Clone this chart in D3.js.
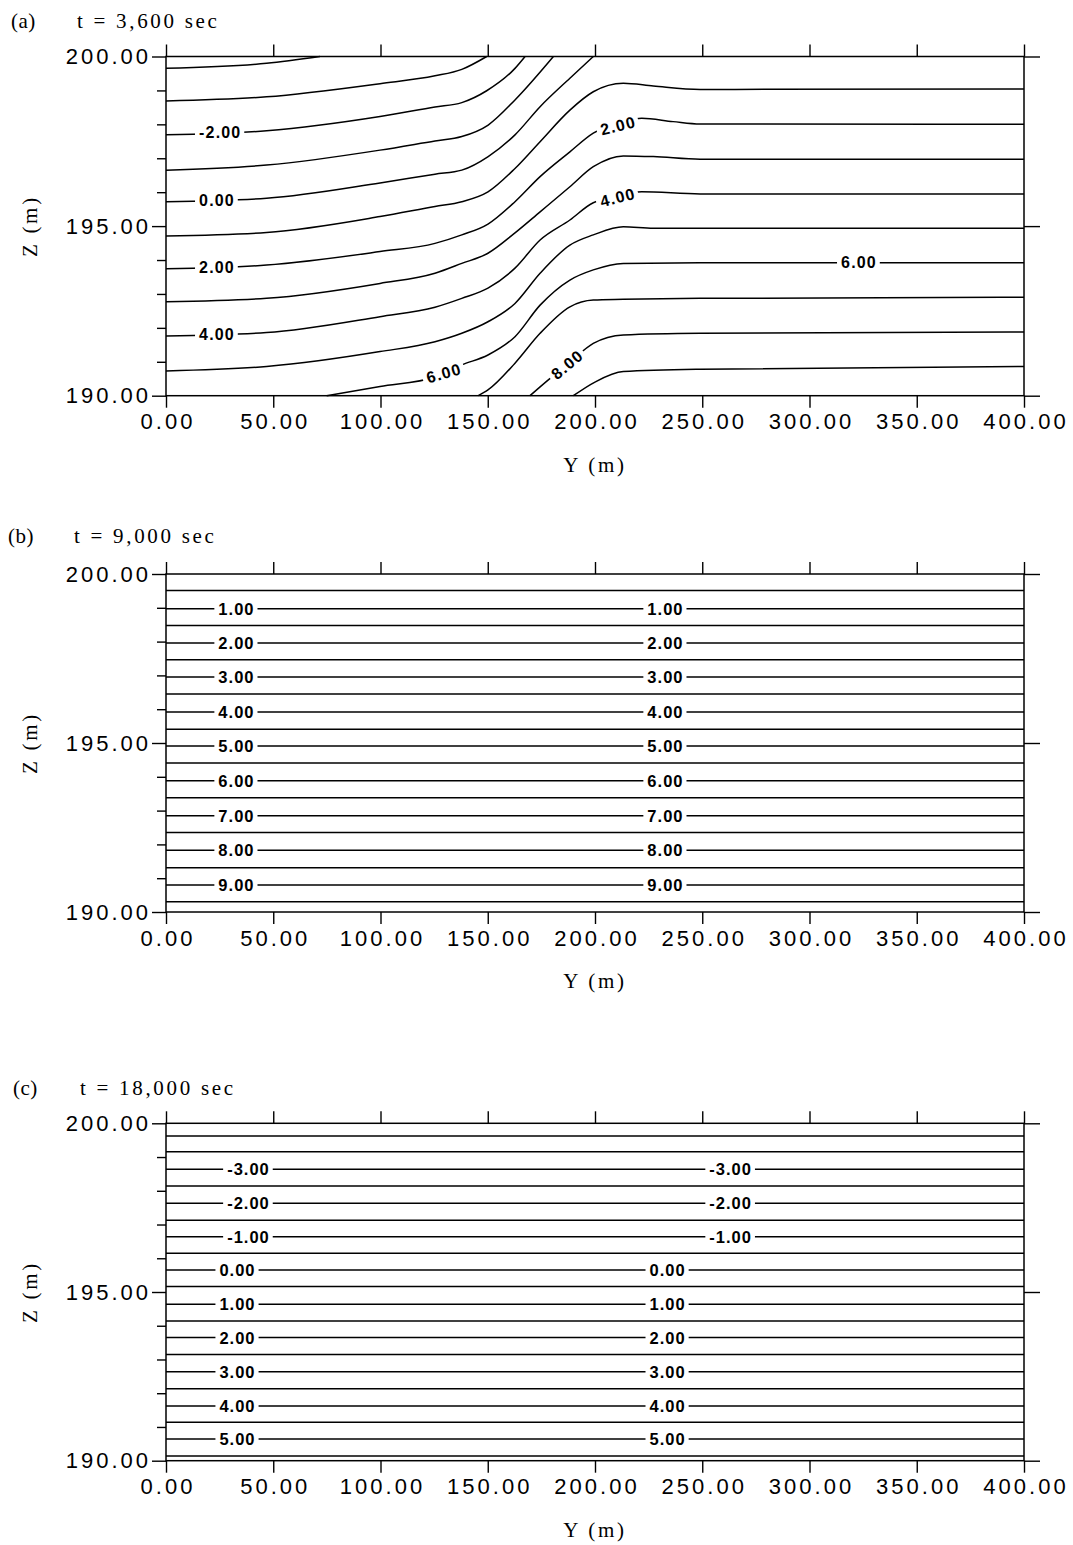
<!DOCTYPE html>
<html><head><meta charset="utf-8">
<script src="https://cdn.jsdelivr.net/npm/d3@7"></script>
<style>body{margin:0;background:#fff}svg{display:block}</style>
</head><body><svg id="chart" width="1073" height="1545"></svg>
<script>
// ---------------- DATA ----------------
const panelLetters = ["(a)", "(b)", "(c)"];
const panelTimes = ["t = 3,600 sec", "t = 9,000 sec", "t = 18,000 sec"];
const xAxisTitle = "Y (m)";
const yAxisTitle = "Z (m)";
const yTickValues = [0, 50, 100, 150, 200, 250, 300, 350, 400];
const yTickLabels = ["0.00", "50.00", "100.00", "150.00", "200.00", "250.00", "300.00", "350.00", "400.00"];
const zTickValues = [190, 195, 200];
const zTickLabels = ["190.00", "195.00", "200.00"];
const zMinorTicks = [191, 192, 193, 194, 196, 197, 198, 199];

// Panel (a): contour levels and their traced [Y, Z] vertices
const levelsA = [-4, -3, -2, -1, 0, 1, 2, 3, 4, 5, 6, 7, 8, 9];
const contoursA = [
  [[0,199.65],[46.9,199.80],[71.8,200]],
  [[0,198.69],[46.9,198.81],[99.8,199.20],[125.4,199.43],[137.9,199.62],[149.5,200]],
  [[0,197.69],[46.9,197.81],[99.8,198.23],[125.4,198.51],[137.9,198.64],[149.5,198.99],[162.7,199.65],[167.4,200]],
  [[0,196.65],[46.9,196.80],[99.8,197.24],[125.4,197.51],[137.9,197.64],[150.2,197.98],[162.7,198.72],[180.6,200]],
  [[0,195.72],[46.9,195.82],[99.8,196.27],[125.4,196.53],[137.9,196.65],[150.2,197.05],[162.7,197.69],[174.4,198.52],[188.3,199.36],[199.2,200]],
  [[0,194.71],[46.9,194.81],[99.8,195.28],[125.4,195.58],[137.9,195.72],[150.1,196.01],[162.7,196.70],[174.4,197.49],[188.3,198.42],[199.2,198.96],[213.2,199.21],[227.2,199.13],[249,199.03],[400,199.04]],
  [[0,193.74],[46.9,193.85],[99.8,194.25],[125.4,194.49],[137.9,194.74],[150.1,195.06],[162.7,195.72],[174.4,196.46],[188.3,197.19],[199.2,197.74],[221.8,198.18],[236.4,198.08],[249,198.01],[400,198.0]],
  [[0,192.77],[46.9,192.87],[99.8,193.31],[125.4,193.61],[137.9,193.90],[150.1,194.20],[162.7,194.80],[174.4,195.42],[188.3,196.16],[199.2,196.75],[213.2,197.07],[227.2,197.05],[249,196.97],[400,196.97]],
  [[0,191.76],[46.9,191.86],[99.8,192.33],[125.4,192.61],[137.9,192.87],[150.1,193.17],[162.7,193.76],[174.4,194.59],[188.3,195.18],[199.2,195.69],[221.8,196.01],[249,195.95],[400,195.95]],
  [[0,190.73],[46.9,190.86],[99.8,191.30],[125.4,191.59],[137.9,191.84],[150.1,192.18],[162.7,192.72],[174.4,193.61],[188.3,194.44],[199.2,194.74],[213.2,194.98],[227.2,194.94],[249,194.94],[400,194.94]],
  [[74.9,190],[99.8,190.27],[125.4,190.55],[137.9,190.91],[150.1,191.20],[162.7,191.74],[174.4,192.67],[188.3,193.41],[199.2,193.71],[213.2,193.90],[249,193.92],[400,193.92]],
  [[145.6,190],[150.1,190.17],[162.7,190.96],[174.4,191.84],[188.3,192.62],[199.2,192.82],[213.2,192.84],[249,192.87],[400,192.90]],
  [[169.7,190],[174.4,190.26],[188.3,190.99],[199.2,191.54],[213.2,191.79],[249,191.84],[400,191.88]],
  [[189.9,190],[200.2,190.41],[213.2,190.71],[249,190.78],[400,190.86]]
];
const labelsA = [
  {level:-2, at:25, angle:0}, {level:0, at:23.5, angle:0}, {level:2, at:23.5, angle:0}, {level:4, at:23.5, angle:0},
  {level:6, at:129.3, angle:-16}, {level:8, at:186.8, angle:-40},
  {level:2, at:210.5, angle:-14}, {level:4, at:210.3, angle:-14}, {level:6, at:322.8, angle:0}
];

// Panel (b): horizontal contours
const levelsB = [0.5,1,1.5,2,2.5,3,3.5,4,4.5,5,5.5,6,6.5,7,7.5,8,8.5,9,9.5];
const zB = [199.51,198.97,198.48,197.96,197.46,196.95,196.45,195.92,195.41,194.91,194.41,193.88,193.38,192.85,192.35,191.83,191.31,190.80,190.30];
const labeledB = [1,2,3,4,5,6,7,8,9];

// Panel (c): horizontal contours
const levelsC = [-4,-3.5,-3,-2.5,-2,-1.5,-1,-0.5,0,0.5,1,1.5,2,2.5,3,3.5,4,4.5,5,5.5];
const zC = [199.62,199.16,198.64,198.14,197.63,197.13,196.64,196.15,195.65,195.16,194.64,194.14,193.65,193.15,192.64,192.13,191.62,191.14,190.64,190.14];
const labeledC = [-3,-2,-1,0,1,2,3,4,5];

// ---------------- LAYOUT ----------------
const X0 = 166, X1 = 1024;
const panels = [
  {top:56.5, bottom:395.7, titleY:27.5, letterX:11, timeX:77, levels:levelsA, lines:contoursA, labels:labelsA, lsize:16, lls:1.2, curve:d3.curveMonotoneX},
  {top:574, bottom:912, titleY:542.7, letterX:8, timeX:74, levels:levelsB,
   lines:zB.map(v => [[0, v], [400, v]]),
   labels:labeledB.flatMap(l => [{level:l, at:32.6, angle:0}, {level:l, at:232.6, angle:0}]), lsize:16.5, lls:1, curve:d3.curveLinear},
  {top:1123.3, bottom:1460.7, titleY:1095, letterX:13, timeX:80, levels:levelsC,
   lines:zC.map(v => [[0, v], [400, v]]),
   labels:labeledC.flatMap(l => [{level:l, at:l < 0 ? 38.2 : 33.1, angle:0}, {level:l, at:l < 0 ? 263 : 233.6, angle:0}]), lsize:16.5, lls:1, curve:d3.curveLinear}
];

const svg = d3.select("#chart");
svg.append("rect").attr("width", 1073).attr("height", 1545).attr("fill", "#fff");
const fmt = d3.formatLocale({decimal:".", thousands:",", grouping:[3], currency:["",""], minus:"-"}).format(".2f");
const SANS = "'Liberation Sans', Arial, Helvetica, sans-serif";
const SERIF = "'Liberation Serif', 'Times New Roman', Times, serif";

function interp(pts, yv) {
  for (let i = 0; i < pts.length - 1; i++) {
    const a = pts[i], b = pts[i + 1];
    if (yv >= a[0] && yv <= b[0]) return a[1] + (b[1] - a[1]) * (yv - a[0]) / (b[0] - a[0]);
  }
  return pts[pts.length - 1][1];
}

panels.forEach((p, pi) => {
  const x = d3.scaleLinear().domain([0, 400]).range([X0, X1]);
  const z = d3.scaleLinear().domain([190, 200]).range([p.bottom, p.top]);
  const g = svg.append("g");

  // contour lines
  const line = d3.line().x(d => x(d[0])).y(d => z(d[1])).curve(p.curve);
  g.append("g").selectAll("path").data(p.lines).join("path")
    .attr("d", line).attr("fill", "none").attr("stroke", "#000")
    .attr("stroke-width", 1.5).attr("stroke-linejoin", "round");

  // contour labels
  const lg = g.append("g");
  p.labels.forEach(L => {
    const pts = p.lines[p.levels.indexOf(L.level)];
    const zz = interp(pts, L.at);
    const t = lg.append("g").attr("transform", `translate(${x(L.at)},${z(zz)}) rotate(${L.angle})`);
    const r = t.append("rect").attr("fill", "#fff");
    const tx = t.append("text").text(fmt(L.level))
      .attr("text-anchor", "middle").attr("dy", "0.36em").attr("dx", p.lls / 2)
      .attr("font-family", SANS).attr("font-weight", "bold").attr("font-size", p.lsize)
      .attr("letter-spacing", p.lls).attr("fill", "#000");
    const bb = tx.node().getBBox();
    r.attr("x", bb.x - 4).attr("width", bb.width - p.lls + 8).attr("y", -6).attr("height", 12);
  });

  // frame
  g.append("rect").attr("x", X0).attr("y", p.top).attr("width", X1 - X0).attr("height", p.bottom - p.top)
    .attr("fill", "none").attr("stroke", "#000").attr("stroke-width", 1.5);

  const styleAxis = sel => {
    sel.select(".domain").remove();
    sel.selectAll("line").attr("stroke", "#000").attr("stroke-width", 1.4);
    sel.selectAll("text").attr("fill", "#000").attr("letter-spacing", 3)
      .attr("font-family", SANS).attr("font-size", 22);
  };
  g.append("g").attr("transform", `translate(0,${p.bottom})`)
    .call(d3.axisBottom(x).tickValues(yTickValues).tickFormat((d, i) => yTickLabels[i]).tickSize(12).tickPadding(6))
    .call(styleAxis).selectAll("text").attr("dx", 1.5);
  g.append("g").attr("transform", `translate(0,${p.top})`)
    .call(d3.axisTop(x).tickValues(yTickValues).tickFormat("").tickSize(12)).call(styleAxis);
  g.append("g").attr("transform", `translate(${X0},0)`)
    .call(d3.axisLeft(z).tickValues(zTickValues).tickFormat((d, i) => zTickLabels[i]).tickSize(14).tickPadding(1)).call(styleAxis);
  g.append("g").attr("transform", `translate(${X0},0)`)
    .call(d3.axisLeft(z).tickValues(zMinorTicks).tickFormat("").tickSize(9)).call(styleAxis);
  g.append("g").attr("transform", `translate(${X1},0)`)
    .call(d3.axisRight(z).tickValues(zTickValues).tickFormat("").tickSize(16)).call(styleAxis);

  // titles
  const serifText = (sel, ls) => sel.attr("font-family", SERIF).attr("font-size", 21).attr("letter-spacing", ls).attr("fill", "#000");
  g.append("text").attr("x", p.letterX).attr("y", p.titleY).text(panelLetters[pi]).call(serifText, 0.5);
  g.append("text").attr("x", p.timeX).attr("y", p.titleY).text(panelTimes[pi]).call(serifText, 2.7);
  g.append("text").attr("x", (X0 + X1) / 2).attr("y", p.bottom + 76).attr("text-anchor", "middle")
    .text(xAxisTitle).call(serifText, 2.7);
  g.append("text").attr("transform", `translate(37,${(p.top + p.bottom) / 2}) rotate(-90)`)
    .attr("text-anchor", "middle").text(yAxisTitle).call(serifText, 2.7);
});
</script></body></html>
